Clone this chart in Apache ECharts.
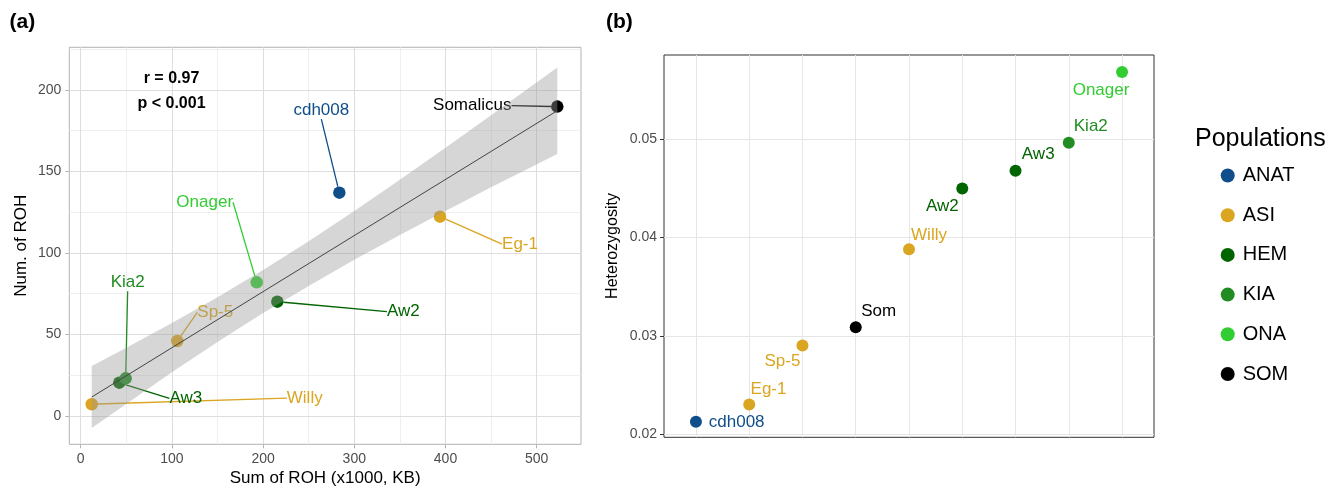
<!DOCTYPE html>
<html><head><meta charset="utf-8">
<script src="https://cdn.jsdelivr.net/npm/echarts@6/dist/echarts.min.js"></script>
<style>html,body{margin:0;padding:0;background:#fff}#c{width:1331px;height:489px}</style>
</head><body><div id="c"></div>
<script>
// ---------- data ----------
const populations = ['ANAT', 'ASI', 'HEM', 'KIA', 'ONA', 'SOM'];
const samplesA = ['cdh008', 'Eg-1', 'Sp-5', 'Somalicus', 'Willy', 'Aw2', 'Aw3', 'Kia2', 'Onager'];
const samplesB = ['cdh008', 'Eg-1', 'Sp-5', 'Som', 'Willy', 'Aw2', 'Aw3', 'Kia2', 'Onager'];
const samplePop = ['ANAT', 'ASI', 'ASI', 'SOM', 'ASI', 'HEM', 'HEM', 'KIA', 'ONA'];
const rohSum = [283.6, 394, 105.9, 522.6, 12.1, 215.6, 42.3, 49.3, 193];
const rohNum = [137, 122.3, 46, 189.8, 7.2, 70.1, 20.4, 23.1, 82];
const heterozygosity = [0.02125, 0.0230, 0.0290, 0.03086, 0.0388, 0.0450, 0.0468, 0.04965, 0.05685];
const fitX = [12.1, 522.6];
const fitY = [11.6, 187.3];
const ciX = [12.1, 50, 100, 150, 200, 250, 300, 350, 400, 450, 522.6];
const ciHigh = [30.6, 41.8, 57.0, 72.9, 89.5, 107.2, 125.8, 144.9, 164.6, 184.5, 213.8];
const ciLow = [-7.4, 7.4, 26.8, 45.3, 63.1, 79.8, 95.8, 111.1, 125.8, 140.3, 160.8];
const xTicksA = [0, 100, 200, 300, 400, 500];
const xMinorA = [50, 150, 250, 350, 450];
const yTicksA = [0, 50, 100, 150, 200];
const yMinorA = [25, 75, 125, 175, 225];
const yTicksB = [0.02, 0.03, 0.04, 0.05];
const yMinorB = [0.025, 0.035, 0.045, 0.055];
const statLines = ['r = 0.97', 'p < 0.001'];

// ---------- styles / layout ----------
const popColors = {ANAT: '#104E8B', ASI: '#DAA520', HEM: '#006400', KIA: '#228B22', ONA: '#32CD32', SOM: '#000000'};
const labelOffA = [[-18, -82], [80, 27.5], [38, -28.5], [-85, -1], [213, -6], [126, 10], [66.5, 15.6], [2, -95.6], [-52, -80]];
const labelOffB = [[40.7, 1], [19.3, -15.4], [-20, 16], [23, -16.3], [20, -14], [-20, 17.4], [22.7, -16.7], [22, -16], [-21, 18]];
const FONT = "'Liberation Sans', Arial, sans-serif";

const chart = echarts.init(document.getElementById('c'), null, {renderer: 'canvas'});

function gridLines(xs, ys, majorX, majorY, cMaj, cMin, wMaj, wMin) {
  const d = [];
  xs.forEach(v => d.push({xAxis: v, lineStyle: {color: majorX ? cMaj : cMin, width: majorX ? wMaj : wMin, type: 'solid'}}));
  ys.forEach(v => d.push({yAxis: v, lineStyle: {color: majorY ? cMaj : cMin, width: majorY ? wMaj : wMin, type: 'solid'}}));
  return d;
}

const series = [];
// panel a grid lines
series.push({
  type: 'line', xAxisIndex: 0, yAxisIndex: 0, data: [], z: 0, silent: true,
  markLine: {z: 0, silent: true, symbol: ['none', 'none'], label: {show: false}, animation: false,
    emphasis: {disabled: true},
    data: [].concat(
      gridLines(xMinorA, yMinorA, false, false, '#dedede', '#ebebeb', 1, 0.8),
      gridLines(xTicksA, yTicksA, true, true, '#dedede', '#ebebeb', 1, 0.8))}
});
// panel b grid lines
series.push({
  type: 'line', xAxisIndex: 1, yAxisIndex: 1, data: [], z: 0, silent: true,
  markLine: {z: 0, silent: true, symbol: ['none', 'none'], label: {show: false}, animation: false,
    emphasis: {disabled: true},
    data: [].concat(
      gridLines([], yMinorB, false, false, '#e6e6e6', '#f0f0f0', 1, 0.7),
      gridLines(samplesB.map((s, i) => i), yTicksB, true, true, '#e6e6e6', '#f0f0f0', 1, 0.7))}
});
// panel a points
samplesA.forEach((s, i) => {
  const col = popColors[samplePop[i]];
  series.push({
    type: 'scatter', name: samplePop[i], xAxisIndex: 0, yAxisIndex: 0, z: 2,
    symbolSize: 12.5, itemStyle: {color: col, opacity: 1},
    data: [[rohSum[i], rohNum[i]]],
    label: {show: true, position: 'inside', formatter: s, color: col, fontSize: 17, fontFamily: FONT},
    labelLayout: {dx: labelOffA[i][0], dy: labelOffA[i][1]},
    labelLine: {show: true, lineStyle: {color: col, width: 1.3}}
  });
});
// confidence ribbon (drawn over the points as in the reference)
series.push({
  type: 'custom', xAxisIndex: 0, yAxisIndex: 0, z: 3, silent: true,
  data: [[fitX[0], fitY[0]]],
  renderItem: function (params, api) {
    const pts = [];
    ciX.forEach((x, i) => pts.push(api.coord([x, ciHigh[i]])));
    for (let i = ciX.length - 1; i >= 0; i--) pts.push(api.coord([ciX[i], ciLow[i]]));
    return {type: 'polygon', shape: {points: pts, smooth: 0}, style: {fill: 'rgba(153,153,153,0.4)'}};
  }
});
// regression line
series.push({
  type: 'line', xAxisIndex: 0, yAxisIndex: 0, z: 4, silent: true, symbol: 'none',
  data: fitX.map((x, i) => [x, fitY[i]]),
  lineStyle: {color: '#444444', width: 1}
});
// panel b points
samplesB.forEach((s, i) => {
  const col = popColors[samplePop[i]];
  series.push({
    type: 'scatter', name: samplePop[i], xAxisIndex: 1, yAxisIndex: 1, z: 2,
    symbolSize: 12, itemStyle: {color: col, opacity: 1},
    data: [[i, heterozygosity[i]]],
    label: {show: true, position: 'inside', formatter: s, color: col, fontSize: 17, fontFamily: FONT},
    labelLayout: {dx: labelOffB[i][0], dy: labelOffB[i][1]}
  });
});

const option = {
  animation: false,
  backgroundColor: '#ffffff',
  textStyle: {fontFamily: FONT},
  grid: [
    {left: 69.3, top: 47.3, width: 511.7, height: 397, show: true, borderColor: '#b3b3b3', borderWidth: 1, backgroundColor: 'transparent', containLabel: false},
    {left: 664, top: 55, width: 490, height: 382.3, show: true, borderColor: '#333333', borderWidth: 1, backgroundColor: 'transparent', containLabel: false}
  ],
  xAxis: [
    {type: 'value', gridIndex: 0, min: -12.5, max: 548.6, position: 'bottom',
      axisLine: {show: false, onZero: false}, splitLine: {show: false},
      axisTick: {show: true, length: 4, lineStyle: {color: '#b3b3b3'}, customValues: xTicksA},
      axisLabel: {show: true, customValues: xTicksA, color: '#4d4d4d', fontSize: 14, margin: 8, fontFamily: FONT}},
    {type: 'value', gridIndex: 1, min: -0.6, max: 8.6, position: 'bottom',
      axisLine: {show: false, onZero: false}, splitLine: {show: false}, axisTick: {show: false}, axisLabel: {show: false}}
  ],
  yAxis: [
    {type: 'value', gridIndex: 0, min: -17.4, max: 226.2, position: 'left',
      axisLine: {show: false, onZero: false}, splitLine: {show: false},
      axisTick: {show: true, length: 4, lineStyle: {color: '#b3b3b3'}, customValues: yTicksA},
      axisLabel: {show: true, customValues: yTicksA, color: '#4d4d4d', fontSize: 14, margin: 8, fontFamily: FONT}},
    {type: 'value', gridIndex: 1, min: 0.019664, max: 0.058582, position: 'left',
      axisLine: {show: false, onZero: false}, splitLine: {show: false},
      axisTick: {show: true, length: 4, lineStyle: {color: '#333333'}, customValues: yTicksB},
      axisLabel: {show: true, customValues: yTicksB, color: '#4d4d4d', fontSize: 14, margin: 7, fontFamily: FONT,
        formatter: v => Number(v).toFixed(2)}}
  ],
  legend: {
    data: populations, orient: 'vertical', left: 1215.7, top: 160.5,
    icon: 'circle', itemWidth: 20, itemHeight: 14, itemGap: 19.7, selectedMode: false,
    textStyle: {fontSize: 20, color: '#000', fontFamily: FONT}
  },
  graphic: [
    {type: 'text', z: 10, left: 9.6, top: 12, style: {text: '(a)', font: "bold 21px " + FONT, fill: '#000'}},
    {type: 'text', z: 10, left: 606, top: 12, style: {text: '(b)', font: "bold 21px " + FONT, fill: '#000'}},
    {type: 'text', z: 10, x: 171.5, y: 78.3, style: {text: statLines[0], font: "bold 16px " + FONT, fill: '#000', textAlign: 'center', textVerticalAlign: 'middle'}},
    {type: 'text', z: 10, x: 171.5, y: 103.3, style: {text: statLines[1], font: "bold 16px " + FONT, fill: '#000', textAlign: 'center', textVerticalAlign: 'middle'}},
    {type: 'text', z: 10, x: 325.2, y: 478, style: {text: 'Sum of ROH (x1000, KB)', font: "17px " + FONT, fill: '#000', textAlign: 'center', textVerticalAlign: 'middle'}},
    {type: 'text', z: 10, x: 21, y: 245.8, rotation: Math.PI / 2, style: {text: 'Num. of ROH', font: "17px " + FONT, fill: '#000', textAlign: 'center', textVerticalAlign: 'middle'}},
    {type: 'text', z: 10, x: 613, y: 246, rotation: Math.PI / 2, style: {text: 'Heterozygosity', font: "16px " + FONT, fill: '#000', textAlign: 'center', textVerticalAlign: 'middle'}},
    {type: 'text', z: 10, x: 1195, y: 139.3, style: {text: 'Populations', font: "25px " + FONT, fill: '#000', textAlign: 'left', textVerticalAlign: 'middle'}}
  ],
  series: series
};
chart.setOption(option);
</script></body></html>
